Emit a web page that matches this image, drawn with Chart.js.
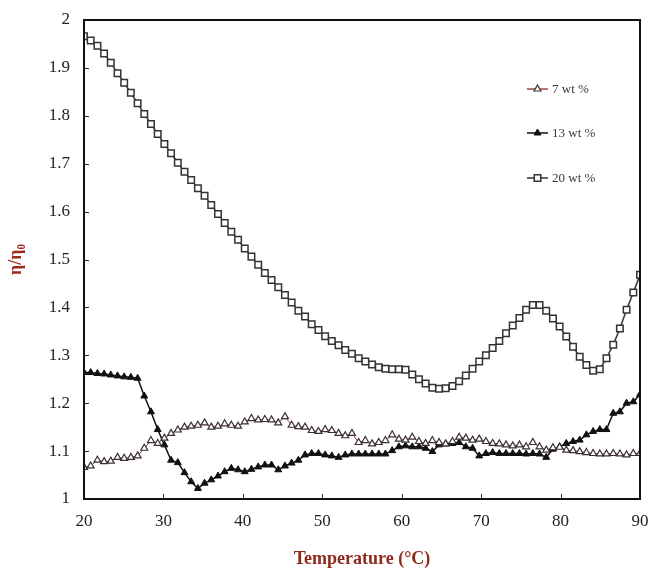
<!DOCTYPE html>
<html>
<head>
<meta charset="utf-8">
<script src="https://cdn.jsdelivr.net/npm/chart.js@4.4.1/dist/chart.umd.min.js"></script>
<style>
html,body{margin:0;padding:0;background:#fff;}
#wrap{width:653px;height:572px;position:relative;}
</style>
</head>
<body>
<div id="wrap"><canvas id="c" width="653" height="572"></canvas></div>
<script>
const temps = [20.00,20.84,21.69,22.53,23.37,24.22,25.06,25.90,26.75,27.59,28.43,29.28,30.12,30.96,31.81,32.65,33.49,34.34,35.18,36.02,36.87,37.71,38.55,39.40,40.24,41.08,41.93,42.77,43.61,44.46,45.30,46.14,46.99,47.83,48.67,49.52,50.36,51.20,52.05,52.89,53.73,54.58,55.42,56.27,57.11,57.95,58.80,59.64,60.48,61.33,62.17,63.01,63.86,64.70,65.54,66.39,67.23,68.07,68.92,69.76,70.60,71.45,72.29,73.13,73.98,74.82,75.66,76.51,77.35,78.19,79.04,79.88,80.72,81.57,82.41,83.25,84.10,84.94,85.78,86.63,87.47,88.31,89.16,90.00];

const wt7 = [1.066,1.069,1.081,1.078,1.079,1.087,1.085,1.087,1.090,
  1.106,1.122,1.116,1.127,1.137,1.144,1.150,1.152,1.154,
  1.159,1.150,1.152,1.157,1.154,1.152,1.161,1.168,
  1.165,1.166,1.165,1.159,1.172,1.154,1.151,1.150,
  1.143,1.141,1.145,1.143,1.137,1.132,1.137,1.118,1.122,1.115,1.118,1.122,
  1.134,1.125,1.123,1.129,1.120,1.116,1.122,1.118,1.115,
  1.120,1.129,1.127,1.123,1.125,1.120,1.116,1.115,1.113,1.111,1.113,1.109,1.118,1.109,1.102,1.107,1.108,1.102,1.101,1.099,1.097,1.095,1.094,1.094,1.095,1.094,1.092,1.095,1.095];

const wt13 = [1.264,1.264,1.262,1.261,1.259,1.257,1.255,1.254,1.252,
  1.215,1.182,1.145,1.113,1.081,1.076,1.055,1.036,1.022,
  1.033,1.040,1.048,1.057,1.064,1.061,1.057,1.062,1.067,
  1.071,1.071,1.061,1.069,1.075,1.081,1.092,
  1.095,1.095,1.092,1.090,1.087,1.092,1.094,1.094,1.094,1.094,1.094,1.094,
  1.101,1.109,1.111,1.109,1.109,1.106,1.099,1.113,1.115,1.116,
  1.118,1.109,1.106,1.090,1.095,1.097,1.095,1.095,1.095,1.095,1.094,1.095,1.094,1.087,1.104,1.109,1.116,1.120,1.123,1.134,1.141,1.145,1.145,1.179,1.182,1.200,1.203,1.218];

const wt20 = [1.966,1.957,1.946,1.930,1.911,1.889,1.869,1.848,1.826,1.804,1.783,1.762,1.741,1.722,1.702,1.683,1.666,1.649,1.633,1.614,1.595,1.576,1.558,1.541,1.523,1.506,1.489,1.472,1.457,1.442,1.426,1.410,1.393,1.381,1.365,1.353,1.340,1.330,1.321,1.311,1.303,1.294,1.287,1.281,1.275,1.272,1.271,1.271,1.270,1.260,1.250,
  1.241,1.232,1.230,1.231,1.236,1.246,1.258,1.272,1.287,1.300,1.315,1.330,1.346,1.362,1.378,1.395,1.405,1.405,1.393,1.377,1.360,1.339,1.318,1.297,1.280,1.268,1.271,1.294,1.322,1.356,1.395,1.431,1.468];

const seriesNames = ['7 wt %','13 wt %','20 wt %'];
const xTicks = [20,30,40,50,60,70,80,90];
const yTicks = [1,1.1,1.2,1.3,1.4,1.5,1.6,1.7,1.8,1.9,2];

const pts = arr => arr.map((v,i)=>({x:temps[i], y:v}));

const SERIF = "'Liberation Serif','Times New Roman',serif";

const frameAndLegend = {
  id:'frameAndLegend',
  afterDraw(chart){
    const ctx = chart.ctx, a = chart.chartArea;
    const xs = chart.scales.x, ys = chart.scales.y;
    ctx.save();
    ctx.strokeStyle = '#222'; ctx.lineWidth = 1;
    xTicks.forEach(t=>{ const px = Math.round(xs.getPixelForValue(t))+0.5;
      ctx.beginPath(); ctx.moveTo(px,a.bottom); ctx.lineTo(px,a.bottom-5); ctx.stroke(); });
    yTicks.forEach(t=>{ const py = Math.round(ys.getPixelForValue(t))+0.5;
      ctx.beginPath(); ctx.moveTo(a.left,py); ctx.lineTo(a.left+5,py); ctx.stroke(); });
    ctx.strokeStyle = '#111'; ctx.lineWidth = 2;
    ctx.strokeRect(a.left, a.top, a.right-a.left, a.bottom-a.top);
    const rows = [89,133,178];
    chart.data.datasets.forEach((ds,i)=>{
      const y = rows[i];
      ctx.strokeStyle = ds.borderColor; ctx.lineWidth = 1.5;
      ctx.beginPath(); ctx.moveTo(527,y); ctx.lineTo(548,y); ctx.stroke();
      ctx.fillStyle = ds.pointBackgroundColor; ctx.strokeStyle = ds.pointBorderColor; ctx.lineWidth = ds.pointBorderWidth;
      ctx.beginPath();
      Chart.helpers.drawPoint(ctx, {pointStyle: ds.pointStyle, radius: ds.pointRadius, borderWidth: ds.pointBorderWidth}, 537.5, y);
      ctx.fillStyle = '#3a3a3a';
      ctx.font = '13px ' + SERIF;
      ctx.textBaseline = 'middle'; ctx.textAlign = 'left';
      ctx.fillText(seriesNames[i], 552, y+1);
    });
    ctx.restore();
  }
};

new Chart(document.getElementById('c'), {
  type:'line',
  data:{
    datasets:[
      {label:seriesNames[0], data:pts(wt7), borderColor:'#9a4a3a', borderWidth:1,
       pointStyle:'triangle', pointRadius:4, pointBorderWidth:1.2,
       pointBackgroundColor:'#ffffff', pointBorderColor:'#3a3030', tension:0},
      {label:seriesNames[1], data:pts(wt13), borderColor:'#111111', borderWidth:1.5,
       pointStyle:'triangle', pointRadius:4, pointBorderWidth:1,
       pointBackgroundColor:'#111111', pointBorderColor:'#111111', tension:0},
      {label:seriesNames[2], data:pts(wt20), borderColor:'#333333', borderWidth:1.5,
       pointStyle:'rect', pointRadius:4.6, pointBorderWidth:1.5,
       pointBackgroundColor:'#ffffff', pointBorderColor:'#333333', tension:0}
    ]
  },
  options:{
    responsive:false, animation:false,
    layout:{padding:{top:20,right:13,left:0,bottom:0}},
    plugins:{legend:{display:false}, tooltip:{enabled:false}},
    scales:{
      x:{type:'linear', min:20, max:90,
        afterBuildTicks: s => { s.ticks = xTicks.map(v=>({value:v})); },
        afterFit: s => { s.height = 73; s.paddingRight = 0; s.paddingLeft = 0; },
        grid:{display:false, drawTicks:false}, border:{display:false},
        ticks:{padding:12, color:'#222', font:{family:SERIF, size:17}, maxRotation:0},
        title:{display:true, text:'Temperature (°C)', color:'#8e2a1c',
          font:{family:SERIF, size:18, weight:'bold'}, padding:{top:0,bottom:2}}
      },
      y:{type:'linear', min:1, max:2,
        afterBuildTicks: s => { s.ticks = yTicks.map(v=>({value:v})); },
        afterFit: s => { s.width = 84; s.paddingTop = 0; s.paddingBottom = 0; },
        grid:{display:false, drawTicks:false}, border:{display:false},
        ticks:{padding:14, color:'#222', font:{family:SERIF, size:17},
          callback: v => String(Math.round(v*10)/10)},
        title:{display:true, text:'η/η₀', color:'#9a2a1c',
          font:{family:SERIF, size:18, weight:'bold'}, padding:{top:6,bottom:0}}
      }
    }
  },
  plugins:[frameAndLegend]
});
</script>
</body>
</html>
